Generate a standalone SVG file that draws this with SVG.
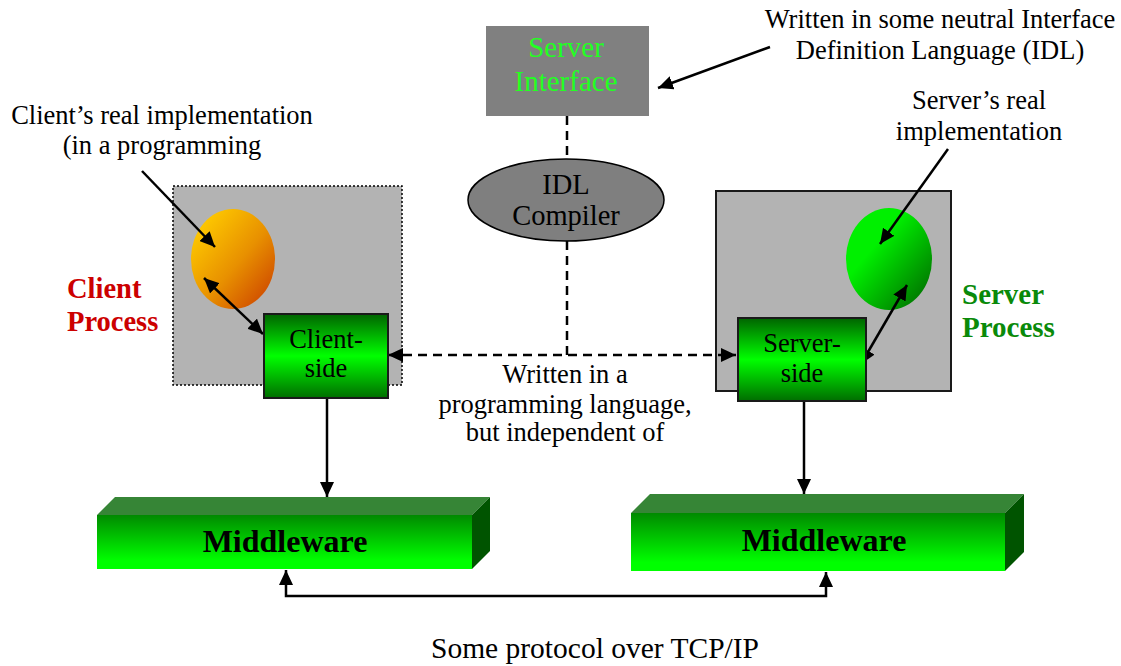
<svg xmlns="http://www.w3.org/2000/svg" width="1121" height="666" viewBox="0 0 1121 666">
<style>
text{font-family:"Liberation Serif","Times New Roman",serif;fill:#000}
.t{font-size:26.5px}
.big{font-size:29px}
.bold{font-weight:bold}
.c{text-anchor:middle}
.ln{stroke:#000;stroke-width:2.5;fill:none}
.dash{stroke:#000;stroke-width:2.5;fill:none;stroke-dasharray:9 6}
.proc{fill:#b3b3b3}
.side{fill:url(#sideG);stroke:#1a1a1a;stroke-width:2}
.mtop{fill:#368536}
.mside{fill:#005400}
.mfront{fill:url(#mwG)}
</style>
<defs>
<marker id="ah" markerUnits="userSpaceOnUse" markerWidth="16" markerHeight="14" viewBox="0 0 16 14" refX="15" refY="7" orient="auto-start-reverse">
<path d="M0,0 L15,7 L0,14 z" fill="#000"/>
</marker>
<linearGradient id="sideG" x1="0" y1="0" x2="0" y2="1">
<stop offset="0" stop-color="#006400"/>
<stop offset="0.5" stop-color="#00ff00"/>
<stop offset="1" stop-color="#006e00"/>
</linearGradient>
<linearGradient id="mwG" x1="0" y1="0" x2="0" y2="1">
<stop offset="0" stop-color="#008a00"/>
<stop offset="0.85" stop-color="#00ff00"/>
<stop offset="1" stop-color="#00ff00"/>
</linearGradient>
<linearGradient id="orG" x1="0" y1="0" x2="1" y2="1">
<stop offset="0.1" stop-color="#ffcc00"/>
<stop offset="0.55" stop-color="#e89000"/>
<stop offset="1" stop-color="#c83800"/>
</linearGradient>
<linearGradient id="grG" x1="0" y1="0" x2="1" y2="1">
<stop offset="0.35" stop-color="#00f000"/>
<stop offset="1" stop-color="#006000"/>
</linearGradient>
</defs>

<g id="client-process">
<rect class="proc" x="173" y="186" width="229" height="199" stroke="#000" stroke-width="1.5" stroke-dasharray="2 2"/>
<text class="bold" x="67" y="298" font-size="28.5" style="fill:#cc0000">Client</text>
<text class="bold" x="67" y="331" font-size="28.5" style="fill:#cc0000">Process</text>
</g>
<g id="server-process">
<rect class="proc" x="716" y="191" width="235" height="200" stroke="#1a1a1a" stroke-width="2"/>
<text class="bold" x="962" y="304" font-size="29" style="fill:#0a8a0a">Server</text>
<text class="bold" x="962" y="337" font-size="29" style="fill:#0a8a0a">Process</text>
</g>
<g id="client-impl">
<ellipse cx="233" cy="259" rx="42" ry="50" fill="url(#orG)"/>
</g>
<g id="server-impl">
<ellipse cx="889" cy="259" rx="43" ry="51" fill="url(#grG)"/>
</g>
<g id="server-interface">
<rect x="486" y="26" width="163" height="90" fill="#808080"/>
<text class="big c" x="566" y="57" style="fill:#22ff22">Server</text>
<text class="big c" x="566" y="91" style="fill:#22ff22">Interface</text>
</g>
<g id="idl-compiler">
<ellipse cx="566" cy="200" rx="98" ry="41" fill="#7f7f7f" stroke="#000" stroke-width="1.5"/>
<text class="c" x="566" y="194" font-size="28.5">IDL</text>
<text class="c" x="566" y="225" font-size="28.5">Compiler</text>
</g>

<g id="connectors">
<line class="ln" x1="142" y1="171" x2="215" y2="247" marker-end="url(#ah)"/>
<line class="ln" x1="204" y1="278" x2="263" y2="334" marker-start="url(#ah)" marker-end="url(#ah)"/>
<line class="dash" x1="567" y1="116" x2="567" y2="159"/>
<line class="dash" x1="567" y1="241" x2="567" y2="355"/>
<line class="dash" x1="388" y1="355" x2="736" y2="355" marker-start="url(#ah)" marker-end="url(#ah)"/>
<line class="ln" x1="770" y1="47" x2="658" y2="88" marker-end="url(#ah)"/>
<line class="ln" x1="948" y1="149" x2="880" y2="244" marker-end="url(#ah)"/>
<line class="ln" x1="861" y1="364" x2="907" y2="285" marker-start="url(#ah)" marker-end="url(#ah)"/>
<line class="ln" x1="327" y1="398" x2="327" y2="497" marker-end="url(#ah)"/>
<line class="ln" x1="804" y1="401" x2="804" y2="494" marker-end="url(#ah)"/>
<path class="ln" d="M286,570 L286,596 L826,596 L826,572" marker-start="url(#ah)" marker-end="url(#ah)"/>
</g>

<g id="client-side">
<rect class="side" x="264" y="314" width="124" height="84"/>
<text class="t c" x="326" y="348">Client-</text>
<text class="t c" x="326" y="377">side</text>
</g>
<g id="server-side">
<rect class="side" x="738" y="318" width="128" height="83"/>
<text class="t c" x="802" y="352">Server-</text>
<text class="t c" x="802" y="382">side</text>
</g>
<g id="middleware-left">
<polygon class="mtop" points="97,515 115,497 490,497 472,515"/>
<polygon class="mside" points="472,515 490,497 490,551 472,569"/>
<rect class="mfront" x="97" y="515" width="375" height="54"/>
<text class="bold c" x="285" y="552" font-size="32">Middleware</text>
</g>
<g id="middleware-right">
<polygon class="mtop" points="631,513 650,494 1024,494 1005,513"/>
<polygon class="mside" points="1005,513 1024,494 1024,552 1005,571"/>
<rect class="mfront" x="631" y="513" width="374" height="58"/>
<text class="bold c" x="824" y="551" font-size="32">Middleware</text>
</g>

<g id="labels">
<text class="t c" x="162" y="124">Client’s real implementation</text>
<text class="t c" x="162" y="154">(in a programming</text>
<text class="t c" x="940" y="28">Written in some neutral Interface</text>
<text class="t c" x="940" y="59">Definition Language (IDL)</text>
<text class="t c" x="979" y="109">Server’s real</text>
<text class="t c" x="979" y="140">implementation</text>
<text class="t c" x="565" y="383">Written in a</text>
<text class="t c" x="565" y="413">programming language,</text>
<text class="t c" x="565" y="441">but independent of</text>
<text class="c" x="595" y="658" font-size="29.5">Some protocol over TCP/IP</text>
</g>
</svg>
